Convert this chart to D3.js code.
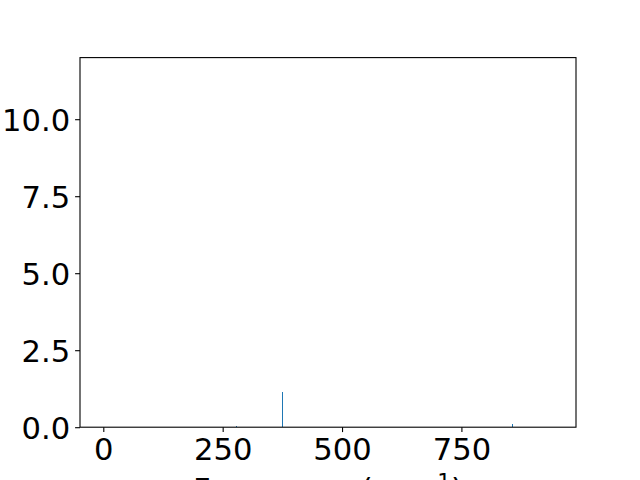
<!DOCTYPE html>
<html><head><meta charset="utf-8">
<script src="https://cdn.jsdelivr.net/npm/d3@7"></script>
<style>body{margin:0;background:#fff}svg{display:block}text{font-family:"DejaVu Sans",sans-serif}</style>
</head><body>
<svg id="c" width="640" height="480"></svg>
<script>
const frequencies = [277, 374, 856];
const intensities = [0.03, 1.13, 0.1];
const xTicks = [0, 250, 500, 750];
const yTicks = [0, 2.5, 5, 7.5, 10];
const xDomain = [-48.8, 990];
const yDomain = [0, 12];

const W = 640, H = 480;
const m = {left: 80, right: 576, top: 57.6, bottom: 427.2};
const svg = d3.select("#c");
const x = d3.scaleLinear().domain(xDomain).range([m.left, m.right]);
const y = d3.scaleLinear().domain(yDomain).range([m.bottom, m.top]);
const fs = 30.6;

svg.append("rect").attr("width", W).attr("height", H).attr("fill", "#fff");

const data = frequencies.map((f, i) => ({f, v: intensities[i]}));
svg.append("g").attr("shape-rendering", "crispEdges").selectAll("rect").data(data).join("rect")
  .attr("x", d => Math.round(x(d.f)))
  .attr("width", 1)
  .attr("y", d => y(d.v))
  .attr("height", d => y(0) - y(d.v))
  .attr("fill", "#1f77b4");

// x axis
const xa = svg.append("g").attr("transform", `translate(0,${m.bottom})`)
  .call(d3.axisBottom(x).tickValues(xTicks).tickFormat(d3.format("d")).tickSize(4.9).tickPadding(4.9));
xa.select(".domain").remove();
xa.selectAll("line").attr("stroke", "#000").attr("stroke-width", 1.1);
xa.selectAll("text").attr("font-size", fs).attr("fill", "#000").attr("font-family", "DejaVu Sans").attr("dy", "0.76em");

// y axis
const ya = svg.append("g").attr("transform", `translate(${m.left},0)`)
  .call(d3.axisLeft(y).tickValues(yTicks).tickFormat(d3.format(".1f")).tickSize(4.9).tickPadding(4.9));
ya.select(".domain").remove();
ya.selectAll("line").attr("stroke", "#000").attr("stroke-width", 1.1);
ya.selectAll("text").attr("font-size", fs).attr("fill", "#000").attr("font-family", "DejaVu Sans").attr("dy", "0.38em");

// frame
svg.append("rect").attr("x", m.left).attr("y", m.top)
  .attr("width", m.right - m.left).attr("height", m.bottom - m.top)
  .attr("fill", "none").attr("stroke", "#000").attr("stroke-width", 1.1);

// x label
const lab = svg.append("text").attr("x", (m.left + m.right) / 2).attr("y", 500)
  .attr("text-anchor", "middle").attr("font-size", fs).attr("fill", "#000");
lab.append("tspan").text("Frequency (cm");
lab.append("tspan").attr("dy", -11).attr("font-size", fs * 0.7).text("\u22121");
lab.append("tspan").attr("dy", 11).text(")");
</script>
</body></html>
